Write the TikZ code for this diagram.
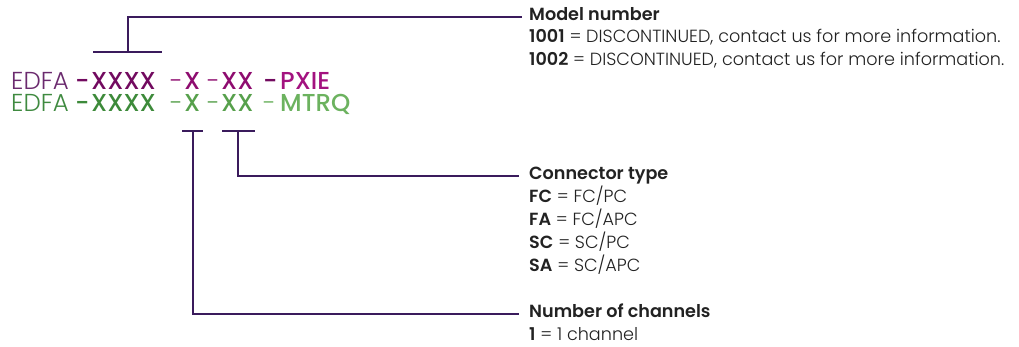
\documentclass[tikz,border=0pt]{standalone}
\usepackage{fontspec}
\setmainfont{Poppins}[UprightFont=* Light, BoldFont=* SemiBold]
\newfontfamily\mediumfont{Poppins}[UprightFont=* Medium]
\usetikzlibrary{positioning}

\definecolor{linepurple}{HTML}{3A1B5C}
\definecolor{pA}{HTML}{6B2A6E}
\definecolor{pB}{HTML}{720A5F}
\definecolor{pC}{HTML}{8E0C6F}
\definecolor{pD}{HTML}{A3127F}
\definecolor{gA}{HTML}{3F8A40}
\definecolor{gB}{HTML}{3D8A3A}
\definecolor{gC}{HTML}{57A04C}
\definecolor{gD}{HTML}{6CB25F}
\definecolor{bodytext}{HTML}{222222}

\tikzset{
    code/.style={anchor=base west, inner sep=0pt, text height=17pt, text depth=2pt,
        font=\fontsize{24.5}{26}\selectfont},
    codebold/.style={code, font=\fontsize{24.5}{26}\selectfont\mediumfont},
    entry/.style={anchor=base west, inner sep=0pt, text=bodytext, font=\fontsize{17.6}{20}\selectfont},
    title/.style={entry, font=\fontsize{17.6}{20}\selectfont\bfseries},
    leader/.style={draw=linepurple, line width=2pt},
}

\begin{document}
\begin{tikzpicture}[x=1pt, y=-1pt]
    \useasboundingbox (0,0) rectangle (1019,346);

    % part number, pxie row
    \node[code, text=pA] (edfaP) at (11,89) {EDFA};
    \node[codebold, text=pB] (d1P) at (75,89) {-};
    \node[codebold, text=pB] (modelP) at (91,89) {XXXX};
    \node[code, text=pC] (d2P) at (170,89) {-};
    \node[codebold, text=pC] (chanP) at (184,89) {X};
    \node[code, text=pC] (d3P) at (207,89) {-};
    \node[codebold, text=pC] (connP) at (221,89) {XX};
    \node[codebold, text=pB] (d4P) at (263,89) {-};
    \node[codebold, text=pD] (formP) at (280,89) {PXIE};

    % part number, mtrq row
    \node[code, text=gA] (edfaG) at (11,111) {EDFA};
    \node[codebold, text=gB] (d1G) at (75,111) {-};
    \node[codebold, text=gB] (modelG) at (91,111) {XXXX};
    \node[code, text=gC] (d2G) at (170,111) {-};
    \node[codebold, text=gC] (chanG) at (184,111) {X};
    \node[code, text=gC] (d3G) at (207,111) {-};
    \node[codebold, text=gC] (connG) at (221,111) {XX};
    \node[code, text=gD] (d4G) at (263,111) {-};
    \node[codebold, text=gD] (formG) at (280,111) {MTRQ};

    % model number
    \node[title] (model) at (529,20) {Model number};
    \node[entry] (model1) at (529,42.5) {\textbf{1001} = DISCONTINUED, contact us for more information.};
    \node[entry] (model2) at (529,65) {\textbf{1002} = DISCONTINUED, contact us for more information.};

    % connector type
    \node[title] (conn) at (529,179) {Connector type};
    \node[entry] (conn1) at (529,202) {\textbf{FC} = FC/PC};
    \node[entry] (conn2) at (529,225) {\textbf{FA} = FC/APC};
    \node[entry] (conn3) at (529,248) {\textbf{SC} = SC/PC};
    \node[entry] (conn4) at (529,271) {\textbf{SA} = SC/APC};

    % number of channels
    \node[title] (chan) at (529,317) {Number of channels};
    \node[entry] (chan1) at (529,340) {\textbf{1} = 1 channel};

    % leaders
    \coordinate (modelL) at (93,52);
    \coordinate (modelR) at (162,52);
    \coordinate (modelT) at (128,52);
    \draw[leader] (modelL) -- (modelR);
    \draw[leader] (modelT) |- ([xshift=-7pt]model.mid west);

    \coordinate (chanL) at (182,131);
    \coordinate (chanR) at (203,131);
    \coordinate (chanT) at (193,131);
    \draw[leader] (chanL) -- (chanR);
    \draw[leader] (chanT) |- ([xshift=-10pt]chan.mid west);

    \coordinate (connL) at (222,131);
    \coordinate (connR) at (255,131);
    \coordinate (connT) at (238,131);
    \draw[leader] (connL) -- (connR);
    \draw[leader] (connT) |- ([xshift=-10pt]conn.mid west);
\end{tikzpicture}
\end{document}
